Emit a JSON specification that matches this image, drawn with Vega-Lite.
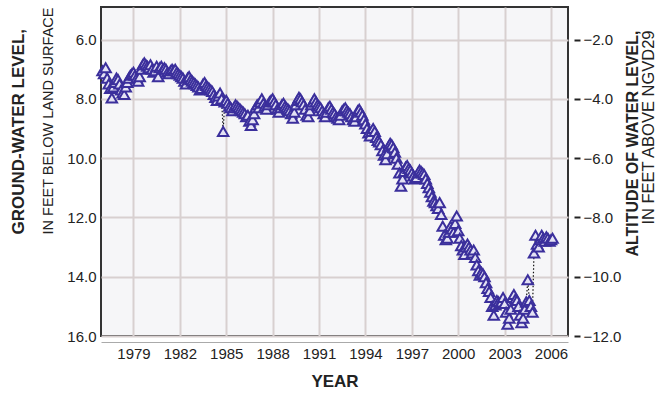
{
  "$schema": "https://vega.github.io/schema/vega-lite/v6.json",
  "width": 467,
  "height": 329,
  "autosize": {"type": "none"},
  "padding": {"left": 101, "top": 7, "right": 93, "bottom": 60},
  "background": "white",
  "config": {
    "font": "Liberation Sans",
    "view": {"stroke": "#333333", "strokeWidth": 2, "fill": "#f6f6f8"},
    "axis": {"labelFont": "Liberation Sans", "titleFont": "Liberation Sans", "labelColor": "#222222", "titleColor": "#222222"}
  },
  "data": {"values": [
    {"t":1977.0,"d":7.05},{"t":1977.1,"d":7.15},{"t":1977.2,"d":6.95},{"t":1977.3,"d":7.3},{"t":1977.4,"d":7.5},{"t":1977.5,"d":7.65},{"t":1977.6,"d":7.97},{"t":1977.7,"d":7.6},{"t":1977.8,"d":7.45},{"t":1977.9,"d":7.3},
    {"t":1978.0,"d":7.35},{"t":1978.1,"d":7.5},{"t":1978.2,"d":7.7},{"t":1978.3,"d":7.8},{"t":1978.4,"d":7.85},{"t":1978.5,"d":7.6},{"t":1978.6,"d":7.45},{"t":1978.7,"d":7.3},{"t":1978.8,"d":7.2},{"t":1978.9,"d":7.15},
    {"t":1979.0,"d":7.1},{"t":1979.1,"d":7.2},{"t":1979.2,"d":7.3},{"t":1979.3,"d":7.4},{"t":1979.4,"d":7.25},{"t":1979.5,"d":7.0},{"t":1979.6,"d":6.85},{"t":1979.7,"d":6.78},{"t":1979.8,"d":6.85},{"t":1979.9,"d":6.9},
    {"t":1980.0,"d":6.95},{"t":1980.1,"d":6.85},{"t":1980.2,"d":7.0},{"t":1980.3,"d":7.1},{"t":1980.4,"d":7.05},{"t":1980.5,"d":6.9},{"t":1980.6,"d":7.25},{"t":1980.7,"d":6.95},{"t":1980.8,"d":6.9},{"t":1980.9,"d":7.0},
    {"t":1981.0,"d":6.95},{"t":1981.1,"d":7.0},{"t":1981.2,"d":7.1},{"t":1981.3,"d":7.15},{"t":1981.4,"d":7.05},{"t":1981.5,"d":7.0},{"t":1981.6,"d":7.05},{"t":1981.7,"d":7.0},{"t":1981.8,"d":7.1},{"t":1981.9,"d":7.15},
    {"t":1982.0,"d":7.2},{"t":1982.1,"d":7.25},{"t":1982.2,"d":7.3},{"t":1982.3,"d":7.4},{"t":1982.4,"d":7.5},{"t":1982.5,"d":7.3},{"t":1982.6,"d":7.25},{"t":1982.7,"d":7.35},{"t":1982.8,"d":7.4},{"t":1982.9,"d":7.45},
    {"t":1983.0,"d":7.5},{"t":1983.1,"d":7.55},{"t":1983.2,"d":7.6},{"t":1983.3,"d":7.7},{"t":1983.4,"d":7.65},{"t":1983.5,"d":7.5},{"t":1983.6,"d":7.45},{"t":1983.7,"d":7.55},{"t":1983.8,"d":7.6},{"t":1983.9,"d":7.65},
    {"t":1984.0,"d":7.7},{"t":1984.1,"d":7.75},{"t":1984.2,"d":7.85},{"t":1984.3,"d":7.95},{"t":1984.4,"d":8.05},{"t":1984.5,"d":7.9},{"t":1984.6,"d":7.8},{"t":1984.7,"d":8.0},{"t":1984.8,"d":9.1},{"t":1984.9,"d":8.1},
    {"t":1985.0,"d":8.05},{"t":1985.1,"d":8.15},{"t":1985.2,"d":8.25},{"t":1985.3,"d":8.3},{"t":1985.4,"d":8.4},{"t":1985.5,"d":8.3},{"t":1985.6,"d":8.2},{"t":1985.7,"d":8.25},{"t":1985.8,"d":8.3},{"t":1985.9,"d":8.35},
    {"t":1986.0,"d":8.4},{"t":1986.1,"d":8.45},{"t":1986.2,"d":8.5},{"t":1986.3,"d":8.6},{"t":1986.4,"d":8.55},{"t":1986.5,"d":8.75},{"t":1986.6,"d":8.9},{"t":1986.7,"d":8.7},{"t":1986.8,"d":8.5},{"t":1986.9,"d":8.3},
    {"t":1987.0,"d":8.2},{"t":1987.1,"d":8.3},{"t":1987.2,"d":8.1},{"t":1987.3,"d":8.0},{"t":1987.4,"d":8.15},{"t":1987.5,"d":8.25},{"t":1987.6,"d":8.35},{"t":1987.7,"d":8.2},{"t":1987.8,"d":8.1},{"t":1987.9,"d":8.05},
    {"t":1988.0,"d":8.0},{"t":1988.1,"d":8.1},{"t":1988.2,"d":8.2},{"t":1988.3,"d":8.35},{"t":1988.4,"d":8.45},{"t":1988.5,"d":8.3},{"t":1988.6,"d":8.2},{"t":1988.7,"d":8.15},{"t":1988.8,"d":8.25},{"t":1988.9,"d":8.3},
    {"t":1989.0,"d":8.35},{"t":1989.1,"d":8.4},{"t":1989.2,"d":8.5},{"t":1989.3,"d":8.65},{"t":1989.4,"d":8.45},{"t":1989.5,"d":8.2},{"t":1989.6,"d":8.05},{"t":1989.7,"d":7.95},{"t":1989.8,"d":8.0},{"t":1989.9,"d":8.1},
    {"t":1990.0,"d":8.2},{"t":1990.1,"d":8.35},{"t":1990.2,"d":8.55},{"t":1990.3,"d":8.6},{"t":1990.4,"d":8.4},{"t":1990.5,"d":8.2},{"t":1990.6,"d":8.1},{"t":1990.7,"d":8.0},{"t":1990.8,"d":8.1},{"t":1990.9,"d":8.2},
    {"t":1991.0,"d":8.25},{"t":1991.1,"d":8.3},{"t":1991.2,"d":8.4},{"t":1991.3,"d":8.5},{"t":1991.4,"d":8.6},{"t":1991.5,"d":8.45},{"t":1991.6,"d":8.3},{"t":1991.7,"d":8.25},{"t":1991.8,"d":8.35},{"t":1991.9,"d":8.45},
    {"t":1992.0,"d":8.5},{"t":1992.1,"d":8.6},{"t":1992.2,"d":8.65},{"t":1992.3,"d":8.7},{"t":1992.4,"d":8.55},{"t":1992.5,"d":8.4},{"t":1992.6,"d":8.35},{"t":1992.7,"d":8.3},{"t":1992.8,"d":8.4},{"t":1992.9,"d":8.45},
    {"t":1993.0,"d":8.5},{"t":1993.1,"d":8.6},{"t":1993.2,"d":8.7},{"t":1993.3,"d":8.75},{"t":1993.4,"d":8.6},{"t":1993.5,"d":8.4},{"t":1993.6,"d":8.35},{"t":1993.7,"d":8.45},{"t":1993.8,"d":8.55},{"t":1993.9,"d":8.7},
    {"t":1994.0,"d":8.85},{"t":1994.1,"d":9.0},{"t":1994.2,"d":9.15},{"t":1994.3,"d":9.25},{"t":1994.4,"d":9.1},{"t":1994.5,"d":9.0},{"t":1994.6,"d":9.1},{"t":1994.7,"d":9.3},{"t":1994.8,"d":9.4},{"t":1994.9,"d":9.45},
    {"t":1995.0,"d":9.55},{"t":1995.1,"d":9.75},{"t":1995.2,"d":9.9},{"t":1995.3,"d":10.05},{"t":1995.4,"d":9.85},{"t":1995.5,"d":9.6},{"t":1995.6,"d":9.5},{"t":1995.7,"d":9.55},{"t":1995.8,"d":9.65},{"t":1995.9,"d":9.8},
    {"t":1996.0,"d":10.0},{"t":1996.1,"d":10.2},{"t":1996.2,"d":10.5},{"t":1996.3,"d":10.95},{"t":1996.4,"d":10.7},{"t":1996.5,"d":10.45},{"t":1996.6,"d":10.3},{"t":1996.7,"d":10.25},{"t":1996.8,"d":10.35},{"t":1996.9,"d":10.4},
    {"t":1997.0,"d":10.5},{"t":1997.1,"d":10.6},{"t":1997.2,"d":10.7},{"t":1997.3,"d":10.65},{"t":1997.4,"d":10.5},{"t":1997.5,"d":10.4},{"t":1997.6,"d":10.45},{"t":1997.7,"d":10.5},{"t":1997.8,"d":10.55},{"t":1997.9,"d":10.7},
    {"t":1998.0,"d":10.85},{"t":1998.1,"d":11.0},{"t":1998.2,"d":11.15},{"t":1998.3,"d":11.3},{"t":1998.4,"d":11.45},{"t":1998.5,"d":11.5},{"t":1998.6,"d":11.6},{"t":1998.7,"d":11.7},{"t":1998.8,"d":11.5},{"t":1998.9,"d":11.9},
    {"t":1999.0,"d":12.3},{"t":1999.1,"d":12.6},{"t":1999.2,"d":12.75},{"t":1999.3,"d":12.7},{"t":1999.4,"d":12.5},{"t":1999.5,"d":12.3},{"t":1999.6,"d":12.4},{"t":1999.7,"d":12.5},{"t":1999.8,"d":12.2},{"t":1999.9,"d":11.95},
    {"t":2000.0,"d":12.45},{"t":2000.1,"d":12.7},{"t":2000.2,"d":12.95},{"t":2000.3,"d":13.1},{"t":2000.4,"d":13.25},{"t":2000.5,"d":13.0},{"t":2000.6,"d":12.9},{"t":2000.7,"d":13.0},{"t":2000.8,"d":13.1},{"t":2000.9,"d":13.2},
    {"t":2001.0,"d":13.1},{"t":2001.1,"d":13.35},{"t":2001.2,"d":13.6},{"t":2001.3,"d":13.8},{"t":2001.4,"d":13.95},{"t":2001.5,"d":13.85},{"t":2001.6,"d":13.9},{"t":2001.7,"d":14.0},{"t":2001.8,"d":14.2},{"t":2001.9,"d":14.4},
    {"t":2002.0,"d":14.5},{"t":2002.1,"d":14.7},{"t":2002.2,"d":15.0},{"t":2002.3,"d":15.3},{"t":2002.4,"d":14.95},{"t":2002.5,"d":14.8},{"t":2002.6,"d":14.85},{"t":2002.7,"d":14.9},{"t":2002.8,"d":14.85},{"t":2002.9,"d":14.7},
    {"t":2003.0,"d":14.9},{"t":2003.1,"d":15.2},{"t":2003.2,"d":15.6},{"t":2003.3,"d":15.4},{"t":2003.4,"d":15.1},{"t":2003.5,"d":14.7},{"t":2003.6,"d":14.6},{"t":2003.7,"d":14.75},{"t":2003.8,"d":14.8},{"t":2003.9,"d":15.0},
    {"t":2004.0,"d":15.3},{"t":2004.1,"d":15.55},{"t":2004.2,"d":15.4},{"t":2004.3,"d":15.1},{"t":2004.4,"d":14.85},{"t":2004.5,"d":14.1},{"t":2004.6,"d":14.8},{"t":2004.7,"d":15.0},{"t":2004.8,"d":15.2},{"t":2004.9,"d":13.2},
    {"t":2005.0,"d":12.6},{"t":2005.1,"d":12.9},{"t":2005.2,"d":13.0},{"t":2005.3,"d":12.75},{"t":2005.4,"d":12.6},{"t":2005.5,"d":12.7},{"t":2005.6,"d":12.8},{"t":2005.7,"d":12.65},{"t":2005.8,"d":12.7},{"t":2005.9,"d":12.8},
    {"t":2006.0,"d":12.75},{"t":2006.1,"d":12.7}
  ]},
  "layer": [
    {
      "mark": {"type": "line", "stroke": "#111111", "strokeDash": [1.5, 2], "strokeWidth": 1.2},
      "encoding": {
        "x": {"field": "t", "type": "quantitative",
          "scale": {"domain": [1976.9, 2007.1], "nice": false, "zero": false},
          "axis": {"title": "YEAR", "titleFontSize": 17, "titleFontWeight": "bold", "titlePadding": 12,
            "values": [1979, 1982, 1985, 1988, 1991, 1994, 1997, 2000, 2003, 2006], "format": "d",
            "labelFontSize": 15, "labelPadding": 4, "ticks": false,
            "domain": true, "domainColor": "#aaaaaa", "domainWidth": 1, "offset": 6,
            "grid": true, "gridColor": "#d8d0d0", "gridWidth": 2}},
        "y": {"field": "d", "type": "quantitative",
          "scale": {"domain": [4.9, 16], "reverse": true, "nice": false, "zero": false},
          "axis": {"orient": "left", "title": "IN FEET BELOW LAND SURFACE",
            "titleFontSize": 14.5, "titleFontWeight": "normal", "titlePadding": 11,
            "titleAngle": 270, "titleAlign": "left", "titleY": 227,
            "values": [6, 8, 10, 12, 14, 16], "format": ".1f", "labelFontSize": 15, "labelPadding": 5,
            "ticks": false, "domain": false, "grid": true, "gridColor": "#d8d0d0", "gridWidth": 2}}
      }
    },
    {
      "mark": {"type": "point", "shape": "triangle-up", "filled": true, "fill": "#e4e2f4", "stroke": "#3b2f9c", "strokeWidth": 2, "size": 110, "opacity": 1},
      "encoding": {
        "x": {"field": "t", "type": "quantitative"},
        "y": {"field": "d", "type": "quantitative", "axis": null}
      }
    },
    {
      "mark": {"type": "point", "opacity": 0},
      "encoding": {
        "x": {"field": "t", "type": "quantitative"},
        "y": {"field": "d", "type": "quantitative",
          "axis": {"orient": "left", "title": "GROUND-WATER LEVEL,",
            "titleFontSize": 17, "titleFontWeight": "bold", "titlePadding": 74,
            "titleAngle": 270, "titleAlign": "left", "titleY": 227,
            "labels": false, "ticks": false, "domain": false, "grid": false}}
      }
    },
    {
      "mark": {"type": "point", "opacity": 0},
      "encoding": {
        "x": {"field": "t", "type": "quantitative"},
        "y": {"field": "d", "type": "quantitative",
          "axis": {"orient": "right", "title": "ALTITUDE OF WATER LEVEL,", "titleFontSize": 16, "titleFontWeight": "bold", "titlePadding": 4,
            "titleAngle": 270, "titleBaseline": "top", "titleAlign": "right", "titleY": 23,
            "values": [6, 8, 10, 12, 14, 16], "labelExpr": "format(4 - datum.value, '.1f')", "labelFontSize": 15, "labelPadding": 3,
            "offset": 6, "ticks": true, "tickSize": 6, "tickWidth": 2, "tickColor": "#222222", "domain": false, "grid": false}}
      }
    },
    {
      "mark": {"type": "point", "opacity": 0},
      "encoding": {
        "x": {"field": "t", "type": "quantitative"},
        "y": {"field": "d", "type": "quantitative",
          "axis": {"orient": "right", "title": "IN FEET ABOVE NGVD29", "titleFontSize": 16.5, "titleFontWeight": "normal", "titlePadding": 72,
            "titleAngle": 270, "titleBaseline": "top", "titleAlign": "right", "titleY": 23,
            "labels": false, "ticks": false, "domain": false, "grid": false}}
      }
    }
  ],
  "resolve": {"axis": {"y": "independent"}}
}
